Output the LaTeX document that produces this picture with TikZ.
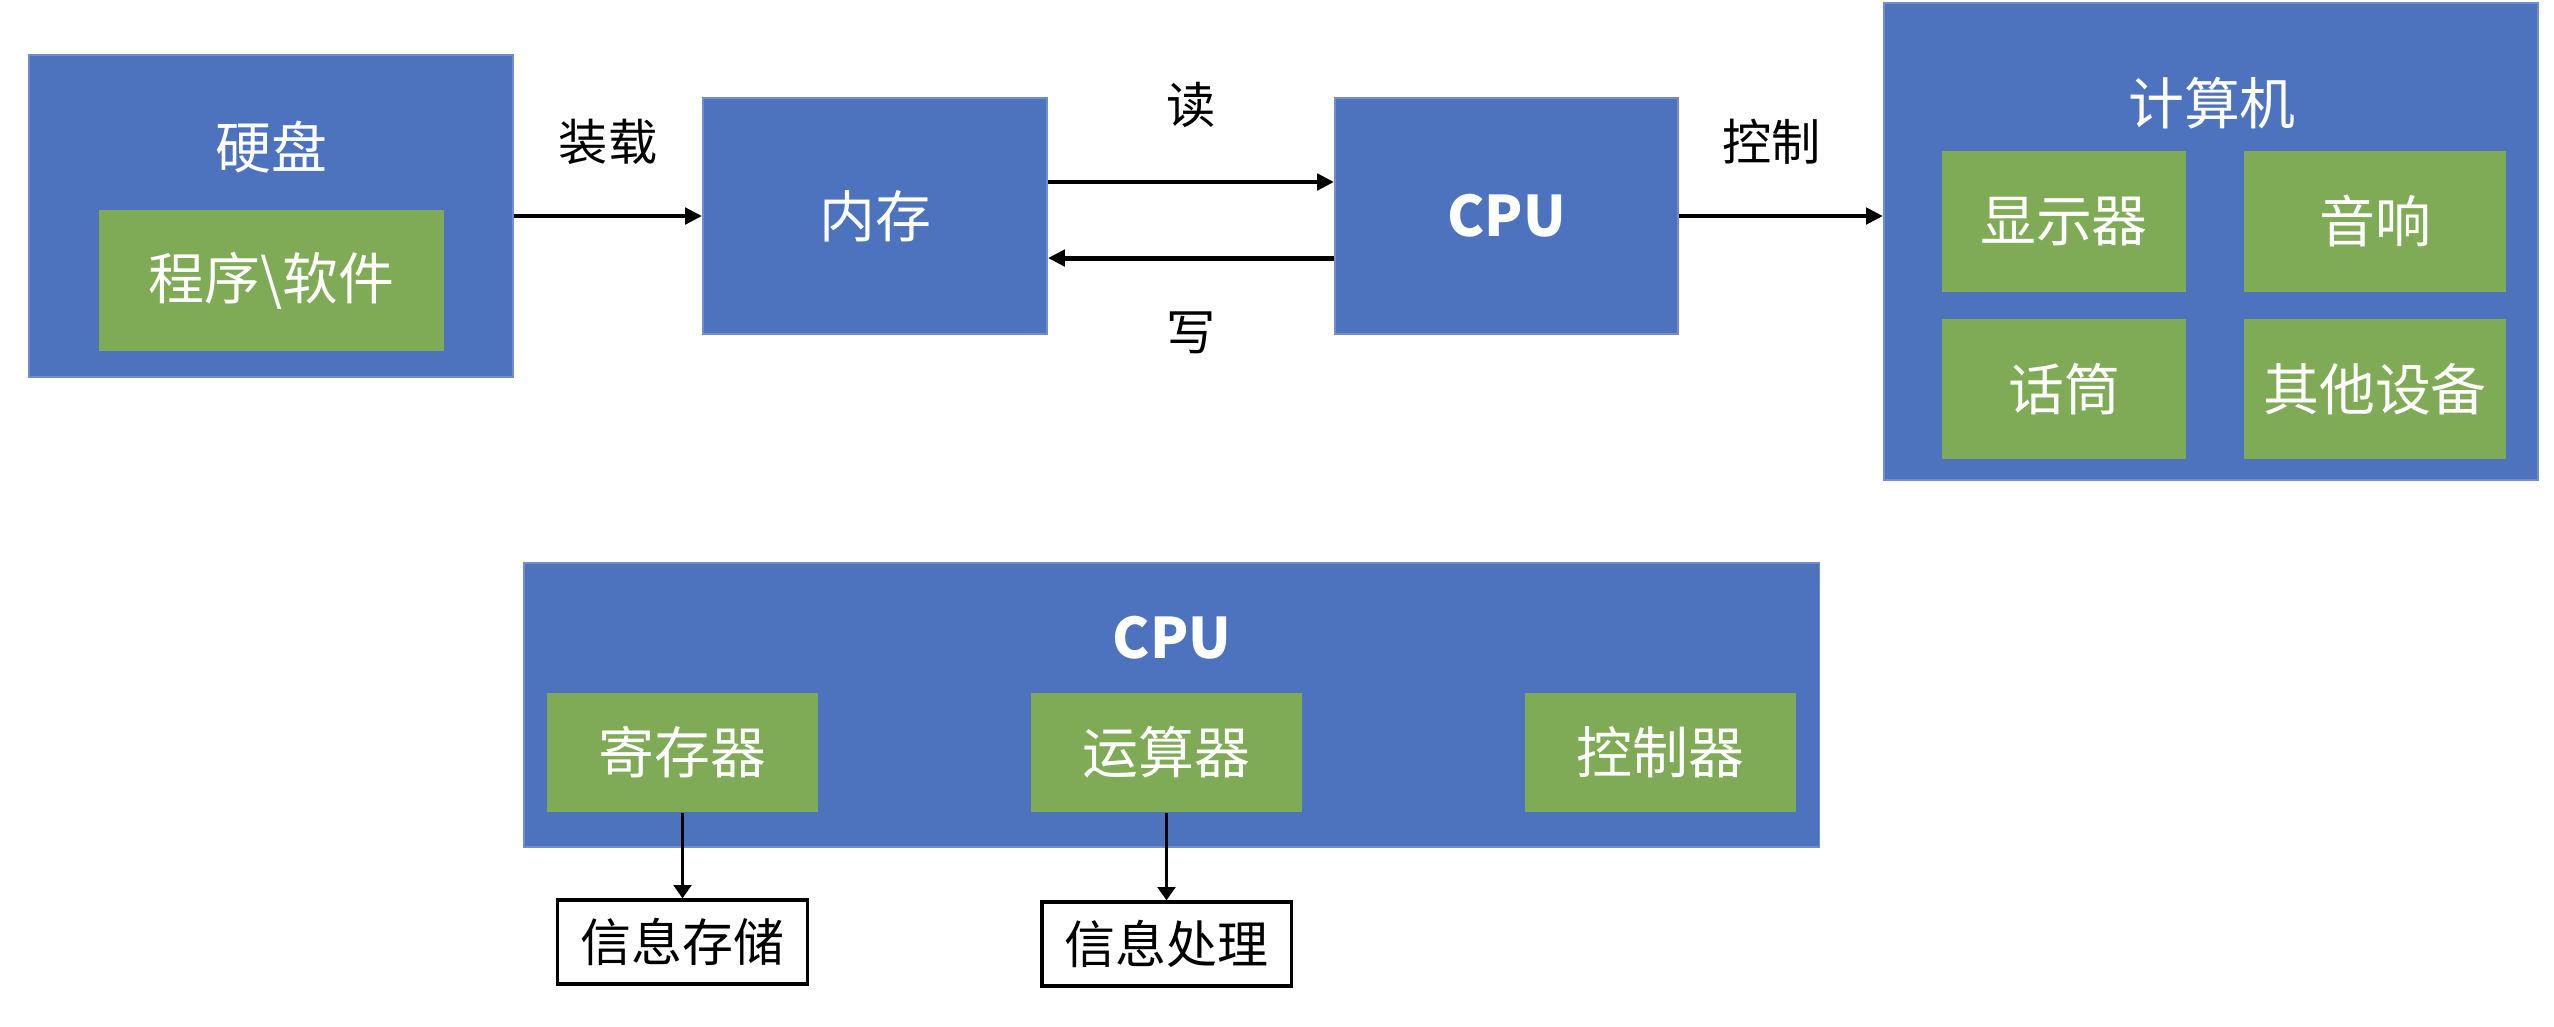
\documentclass[tikz,border=0pt]{standalone}
\usepackage{fontspec}
\setmainfont{Noto Sans CJK SC}
\usetikzlibrary{arrows.meta}
\definecolor{blokblaa}{RGB}{78,115,190}
\definecolor{blokkant}{RGB}{112,142,205}
\definecolor{indregroen}{RGB}{127,170,86}

\begin{document}
\begin{tikzpicture}
   [
    x=0.01cm, y=-0.01cm,
    blok/.style={rectangle, fill=blokblaa, draw=blokkant, line width=0.5pt,
                 inner sep=0pt},
    indre/.style={rectangle, fill=indregroen, inner sep=0pt, text=white,
                  font=\fontsize{15.9}{18}\selectfont},
    ramme/.style={rectangle, draw=black, line width=0.9pt, fill=white,
                  inner sep=0pt, font=\fontsize{14.5}{17}\selectfont},
    hvid/.style={text=white, font=\fontsize{15.9}{18}\selectfont},
    kant/.style={font=\fontsize{14}{17}\selectfont},
    pil/.style={line width=1.4pt, -{Triangle[length=4.8pt,width=4.6pt]}},
    tyndpil/.style={line width=1pt, -{Triangle[length=3.8pt,width=5pt]}}
    ]

\useasboundingbox (0,0) rectangle (2554,1026);

% top row: disk
\node[blok, minimum width=4.84cm, minimum height=3.22cm] (disk) at (271,216) {};
\node[hvid] (disktitel) at (271,147) {硬盘};
\node[indre, minimum width=3.45cm, minimum height=1.41cm] (prog) at (271.5,280.5)
    {程序\textbackslash 软件};

% top row: memory and cpu
\node[blok, hvid, minimum width=3.44cm, minimum height=2.36cm] (mem) at (875,216) {内存};
\node[blok, hvid, minimum width=3.43cm, minimum height=2.36cm] (cpu) at (1506.5,216)
    {\textbf{CPU}};

% top row: computer
\node[blok, minimum width=6.54cm, minimum height=4.77cm] (comp) at (2211,241.5) {};
\node[hvid] (comptitel) at (2212,103) {计算机};
\node[indre, minimum width=2.44cm, minimum height=1.41cm] (skaerm) at (2064,221.5) {显示器};
\node[indre, minimum width=2.62cm, minimum height=1.41cm] (lyd) at (2375,221.5) {音响};
\node[indre, minimum width=2.44cm, minimum height=1.40cm] (mik) at (2064,389) {话筒};
\node[indre, minimum width=2.62cm, minimum height=1.40cm] (andet) at (2375,389) {其他设备};

% top row: connectors
\draw[pil] (disk) -- node[kant, yshift=0.74cm] (lad) {装载} (mem);
\draw[pil] ([yshift=0.34cm]mem.east) -- node[kant, yshift=0.77cm] (laes) {读}
    ([yshift=0.34cm]cpu.west);
\draw[pil] ([yshift=-0.42cm]cpu.west) -- node[kant, yshift=-0.75cm] (skriv) {写}
    ([yshift=-0.42cm]mem.east);
\draw[pil] (cpu.east) -- node[kant, xshift=-0.09cm, yshift=0.74cm] (styring) {控制}
    (cpu.east -| comp.west);

% bottom: inside the cpu
\node[blok, minimum width=12.95cm, minimum height=2.84cm] (cpuboks) at (1171.5,705) {};
\node[hvid] (cputitel) at (1172,638) {\textbf{CPU}};
\node[indre, minimum width=2.71cm, minimum height=1.19cm] (reg) at (682.5,752.5) {寄存器};
\node[indre, minimum width=2.71cm, minimum height=1.19cm] (alu) at (1166.5,752.5) {运算器};
\node[indre, minimum width=2.71cm, minimum height=1.19cm] (styr) at (1660.5,752.5) {控制器};

\node[ramme, minimum width=2.50cm, minimum height=0.84cm] (lager) at (682.5,942) {信息存储};
\node[ramme, minimum width=2.49cm, minimum height=0.84cm] (behandl) at (1166.5,944) {信息处理};

\draw[tyndpil] (reg) -- (lager);
\draw[tyndpil] (alu) -- (behandl);

\end{tikzpicture}
\end{document}
